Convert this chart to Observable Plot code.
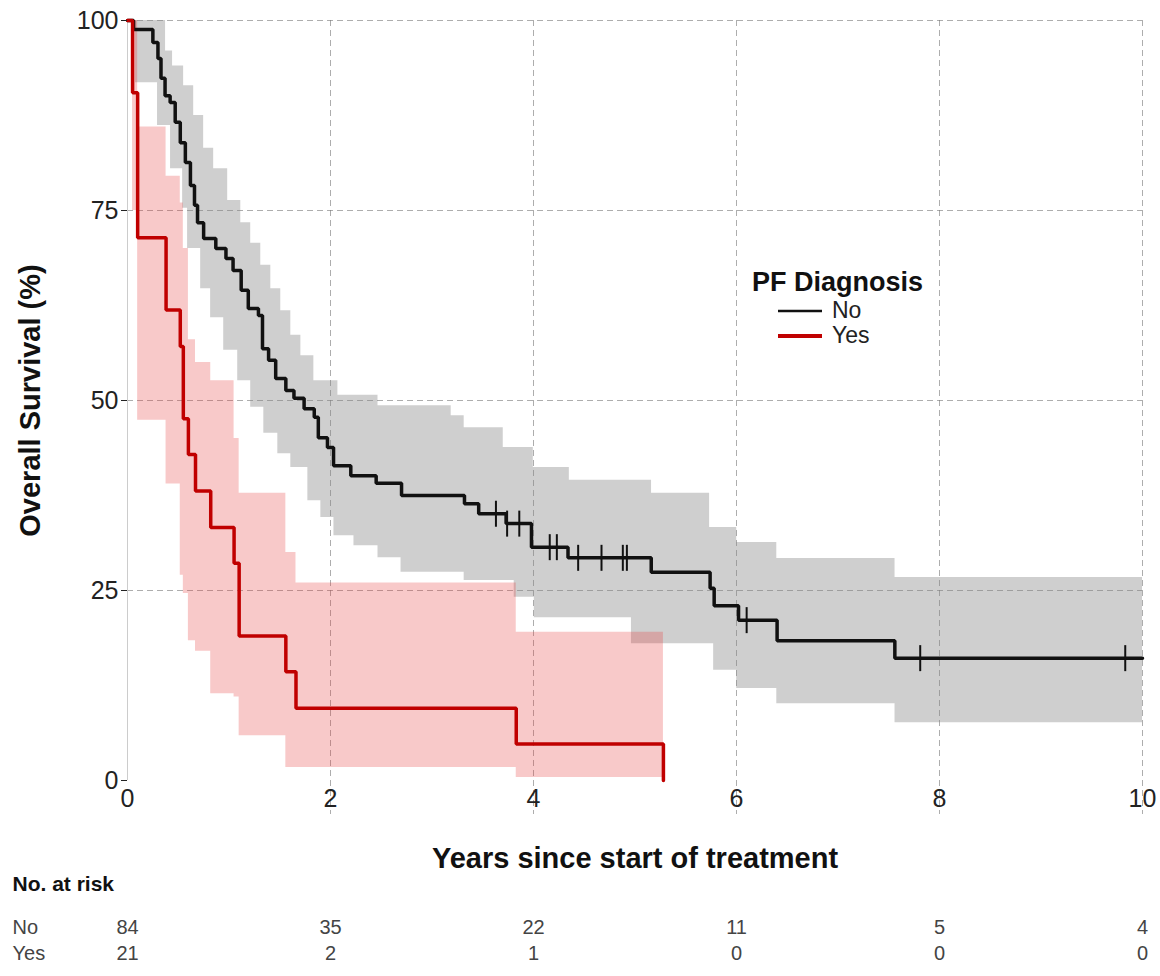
<!DOCTYPE html>
<html>
<head>
<meta charset="utf-8">
<script src="https://cdn.jsdelivr.net/npm/d3@7"></script>
<script src="https://cdn.jsdelivr.net/npm/@observablehq/plot@0.6"></script>
<style>
  body { margin: 0; background: #fff; font-family: "Liberation Sans", Arial, sans-serif; }
  #wrap { position: relative; width: 1160px; height: 976px; overflow: hidden; background: #fff; }
  #wrap > div > svg { display: block; }
  #chart { position: absolute; left: 0; top: 0; }
  #risk { position: absolute; left: 0; top: 864px; }
  #legend { position: absolute; left: 752px; top: 267px; color: #111; }
  #legend .title { font-weight: bold; font-size: 27px; line-height: 31px; }
  #legend .row { display: flex; align-items: center; height: 25px; line-height: 25px; font-size: 23px; color: #222; }
  #legend svg { margin-left: 26px; margin-right: 10px; }
</style>
</head>
<body>
<div id="wrap">
  <div id="chart"></div>
  <div id="risk"></div>
  <div id="legend">
    <div class="title">PF Diagnosis</div>
    <div class="row"><svg width="44" height="8"><line x1="0" y1="4" x2="44" y2="4" stroke="#111" stroke-width="2.5"/></svg>No</div>
    <div class="row"><svg width="44" height="8"><line x1="0" y1="4" x2="44" y2="4" stroke="#c00000" stroke-width="4"/></svg>Yes</div>
  </div>
</div>
<script>
// ---- Data ----
// PF Diagnosis = No : Kaplan–Meier estimate (time in years, survival %)
const noTime = [0, 0.06, 0.25, 0.30, 0.33, 0.37, 0.42, 0.47, 0.52, 0.57, 0.62, 0.66, 0.69, 0.75, 0.87, 0.97, 1.04, 1.12, 1.19, 1.29, 1.33, 1.39, 1.46, 1.56, 1.64, 1.74, 1.84, 1.88, 1.97, 2.03, 2.20, 2.45, 2.70, 3.32, 3.46, 3.73, 3.98, 4.34, 5.16, 5.74, 5.78, 6.02, 6.40, 7.56, 10.0];
const noSurv = [100, 98.8, 97.1, 95.0, 92.4, 90.1, 89.2, 86.6, 83.9, 81.3, 78.3, 75.7, 73.4, 71.3, 70.0, 68.7, 67.1, 64.5, 62.1, 61.2, 56.8, 55.3, 52.9, 51.3, 50.3, 48.9, 47.8, 45.1, 43.8, 41.4, 40.1, 39.1, 37.5, 36.4, 35.1, 33.8, 30.7, 29.3, 27.4, 25.3, 23.0, 21.1, 18.4, 16.1, 16.1];
const noCensor = [3.63, 3.74, 3.86, 4.16, 4.23, 4.44, 4.67, 4.88, 4.92, 6.10, 7.81, 9.83];
// No : confidence band (upper and lower step functions)
const noUpT = [0, 0.375, 0.444, 0.553, 0.652, 0.750, 0.849, 0.987, 1.116, 1.214, 1.313, 1.412, 1.510, 1.609, 1.708, 1.836, 2.073, 2.468, 3.189, 3.317, 3.702, 3.998, 4.353, 5.163, 5.735, 6.002, 6.397, 7.562];
const noUp  = [100, 96, 94, 91.4, 87.5, 83.2, 80.5, 76.3, 73.4, 70.7, 67.8, 64.7, 61.8, 58.6, 55.9, 52.6, 50.7, 49.3, 48.0, 46.4, 43.8, 41.2, 39.5, 37.8, 33.3, 31.3, 29.2, 26.7];
const noLoT = [0, 0.079, 0.296, 0.424, 0.543, 0.592, 0.721, 0.819, 0.948, 1.086, 1.214, 1.343, 1.481, 1.609, 1.777, 1.905, 2.034, 2.231, 2.468, 2.695, 3.317, 3.810, 4.008, 4.965, 5.775, 6.002, 6.397, 7.562];
const noLo  = [100, 91.8, 86.2, 80.5, 75.3, 70.0, 64.7, 60.9, 56.6, 52.6, 49.1, 45.7, 43.0, 41.2, 36.8, 34.6, 32.2, 30.9, 29.3, 27.4, 26.3, 24.1, 21.4, 18.0, 14.5, 12.1, 10.1, 7.6];
const noEnd = 10;

// PF Diagnosis = Yes
const yesTime  = [0, 0.05, 0.10, 0.38, 0.52, 0.55, 0.60, 0.67, 0.82, 1.05, 1.10, 1.56, 1.66, 3.83, 5.28];
const yesSurv  = [100, 90.5, 71.4, 61.9, 57.1, 47.6, 42.9, 38.1, 33.3, 28.6, 19.0, 14.3, 9.5, 4.8, 0];
const yesUpper = [100, 100, 86, 79.5, 76, 70, 58, 55, 52.6, 45, 37.8, 30, 26, 19.5, 19.5];
const yesLower = [100, 75, 47.4, 39, 27, 24.6, 18.4, 17, 11.4, 11, 5.9, 1.7, 1.7, 0.4, 0.4];

// Number at risk table
const riskTimes = [0, 2, 4, 6, 8, 10];
const riskNo  = [84, 35, 22, 11, 5, 4];
const riskYes = [21, 2, 1, 0, 0, 0];
const groups = ["No", "Yes"];

const xTicks = [0, 2, 4, 6, 8, 10];
const yTicks = [0, 25, 50, 75, 100];

// ---- Build tables ----
function stepAt(ts, vs, t) {
  let v = vs[0];
  for (let i = 0; i < ts.length; i++) { if (ts[i] <= t) v = vs[i]; else break; }
  return v;
}
const noLine = noTime.map((t, i) => ({t, s: noSurv[i]}));
const yesLine = yesTime.map((t, i) => ({t, s: yesSurv[i]}));
const noBandTimes = Array.from(new Set([...noUpT, ...noLoT, noEnd])).sort((a, b) => a - b);
const noBand = noBandTimes.map(t => ({t, hi: stepAt(noUpT, noUp, t), lo: stepAt(noLoT, noLo, t)}));
const yesBand = yesTime.map((t, i) => ({t, hi: yesUpper[i], lo: yesLower[i]}));
const censorPts = noCensor.map(t => ({t, s: stepAt(noTime, noSurv, t)}));
const riskRows = riskTimes.flatMap((t, i) => [
  {t, g: "No", n: riskNo[i]},
  {t, g: "Yes", n: riskYes[i]}
]);

const censorSymbol = { draw(ctx) { ctx.moveTo(0, -13); ctx.lineTo(0, 13); } };

const W = 1160, ML = 127, MR = 18;

const chart = Plot.plot({
  width: W,
  height: 882,
  marginLeft: ML,
  marginRight: MR,
  marginTop: 20,
  marginBottom: 102,
  style: { fontFamily: "Liberation Sans, Arial, sans-serif", fontSize: "25px", color: "#222", background: "transparent" },
  x: { domain: [0, 10] },
  y: { domain: [0, 100] },
  marks: [
    Plot.gridY([25, 50, 75, 100], { stroke: "#777", strokeOpacity: 0.6, strokeDasharray: "6,4" }),
    Plot.gridX([2, 4, 6, 8, 10], { stroke: "#777", strokeOpacity: 0.6, strokeDasharray: "6,4", insetBottom: -34 }),
    Plot.ruleX([0], { stroke: "#ccc" }),
    Plot.areaY(noBand, { x: "t", y1: "lo", y2: "hi", curve: "step-after", fill: "#888", fillOpacity: 0.4 }),
    Plot.areaY(yesBand, { x: "t", y1: "lo", y2: "hi", curve: "step-after", fill: "#e63c3c", fillOpacity: 0.28 }),
    Plot.line(noLine, { x: "t", y: "s", curve: "step-after", stroke: "#111", strokeWidth: 3.5, strokeLinejoin: "miter" }),
    Plot.line(yesLine, { x: "t", y: "s", curve: "step-after", stroke: "#c00000", strokeWidth: 3.5, strokeLinejoin: "miter" }),
    Plot.dot(censorPts, { x: "t", y: "s", symbol: censorSymbol, stroke: "#111", strokeWidth: 2, fill: "none" }),
    Plot.axisY({ ticks: yTicks, tickSize: 6, tickPadding: 3, label: null, fontSize: 25 }),
    Plot.axisX({ ticks: xTicks, tickSize: 0, tickPadding: 9, label: null, fontSize: 25 }),
    Plot.text(["Years since start of treatment"], { frameAnchor: "bottom", lineAnchor: "middle", dy: 78, fontWeight: "bold", fontSize: 29, fill: "#111" }),
    Plot.text(["Overall Survival (%)"], { frameAnchor: "left", textAnchor: "middle", lineAnchor: "middle", dx: -97, rotate: -90, fontWeight: "bold", fontSize: 29, fill: "#111" })
  ]
});
document.getElementById("chart").appendChild(chart);

const risk = Plot.plot({
  width: W,
  height: 112,
  marginLeft: ML,
  marginRight: MR,
  marginTop: 50,
  marginBottom: 10,
  style: { fontFamily: "Liberation Sans, Arial, sans-serif", fontSize: "20px", color: "#333", background: "transparent" },
  x: { domain: [0, 10], axis: null },
  y: { type: "band", domain: groups, axis: null, padding: 0 },
  marks: [
    Plot.text(["No. at risk"], { frameAnchor: "top-left", lineAnchor: "middle", dx: -115, dy: -30, textAnchor: "start", fontWeight: "bold", fontSize: 21, fill: "#111" }),
    Plot.text(groups, { y: d => d, frameAnchor: "left", dx: -115, textAnchor: "start", fontSize: 20, fill: "#444" }),
    Plot.text(riskRows, { x: "t", y: "g", text: "n", fontSize: 20, fill: "#444" })
  ]
});
document.getElementById("risk").appendChild(risk);
</script>
</body>
</html>
